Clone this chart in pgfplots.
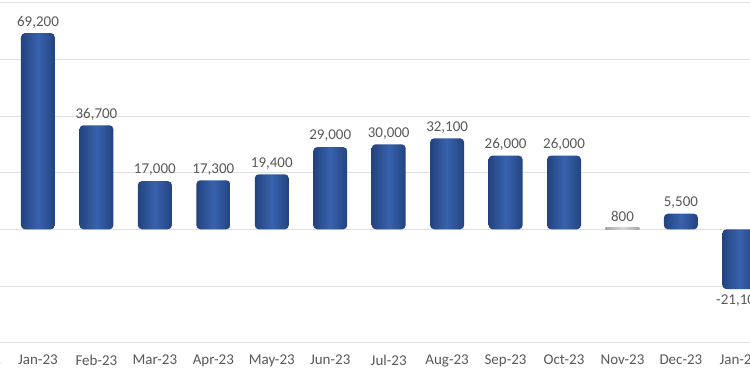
\documentclass[border=0pt]{standalone}
\usepackage{pgfplots}
\pgfplotsset{compat=1.18}
\usepackage{fontspec}
\setmainfont{Carlito}
\definecolor{barmid}{HTML}{3862AE}
\definecolor{baredge}{HTML}{23437E}
\definecolor{labgray}{HTML}{595959}
\definecolor{gridgray}{HTML}{E0E0E0}
\begin{document}
\begin{tikzpicture}
\useasboundingbox (0pt,0pt) rectangle (750pt,375pt);
\clip (0pt,0pt) rectangle (750pt,375pt);
\fill[white] (0pt,0pt) rectangle (750pt,375pt);
\begin{axis}[
  scale only axis,
  width=818.3pt, height=340.2pt,
  at={(-49.7pt,32.3pt)}, anchor=south west,
  xmin=-0.5, xmax=13.5,
  ymin=-40000, ymax=80000,
  ytick={-40000,-20000,0,20000,40000,60000,80000},
  yticklabels={},
  ymajorgrids,
  major grid style={draw=gridgray, line width=0.8pt},
  axis line style={draw=none},
  major tick length=0pt,
  xtick={0,...,13},
  xticklabels={Dec-22,Jan-23,Feb-23,Mar-23,Apr-23,May-23,Jun-23,Jul-23,Aug-23,Sep-23,Oct-23,Nov-23,Dec-23,Jan-24},
  xticklabel style={font=\fontsize{15}{18}\selectfont, text=labgray, yshift=-9pt},
  ybar, bar width=34pt, bar shift=0pt,
  nodes near coords,
  /pgf/number format/assume math mode=true,
  /pgf/number format/.cd, fixed, precision=0, 1000 sep={,},
  /pgfplots/.cd,
  every node near coord/.append style={font=\fontsize{15}{18}\selectfont, text=labgray, inner sep=5pt},
  clip=false,
  barsty/.style={draw=none, left color=baredge, right color=baredge, middle color=barmid, rounded corners=4pt},
]
\addplot[barsty] coordinates {(0,-9000)};
\addplot[barsty] coordinates {(1,69200)};
\addplot[barsty] coordinates {(2,36700)};
\addplot[barsty] coordinates {(3,17000)};
\addplot[barsty] coordinates {(4,17300)};
\addplot[barsty] coordinates {(5,19400)};
\addplot[barsty] coordinates {(6,29000)};
\addplot[barsty] coordinates {(7,30000)};
\addplot[barsty] coordinates {(8,32100)};
\addplot[barsty] coordinates {(9,26000)};
\addplot[barsty] coordinates {(10,26000)};
\addplot[draw=none, left color=gray!70, right color=gray!70, middle color=gray!30] coordinates {(11,800)};
\addplot[barsty] coordinates {(12,5500)};
\addplot[barsty] coordinates {(13,-21100)};
\end{axis}
\end{tikzpicture}
\end{document}
